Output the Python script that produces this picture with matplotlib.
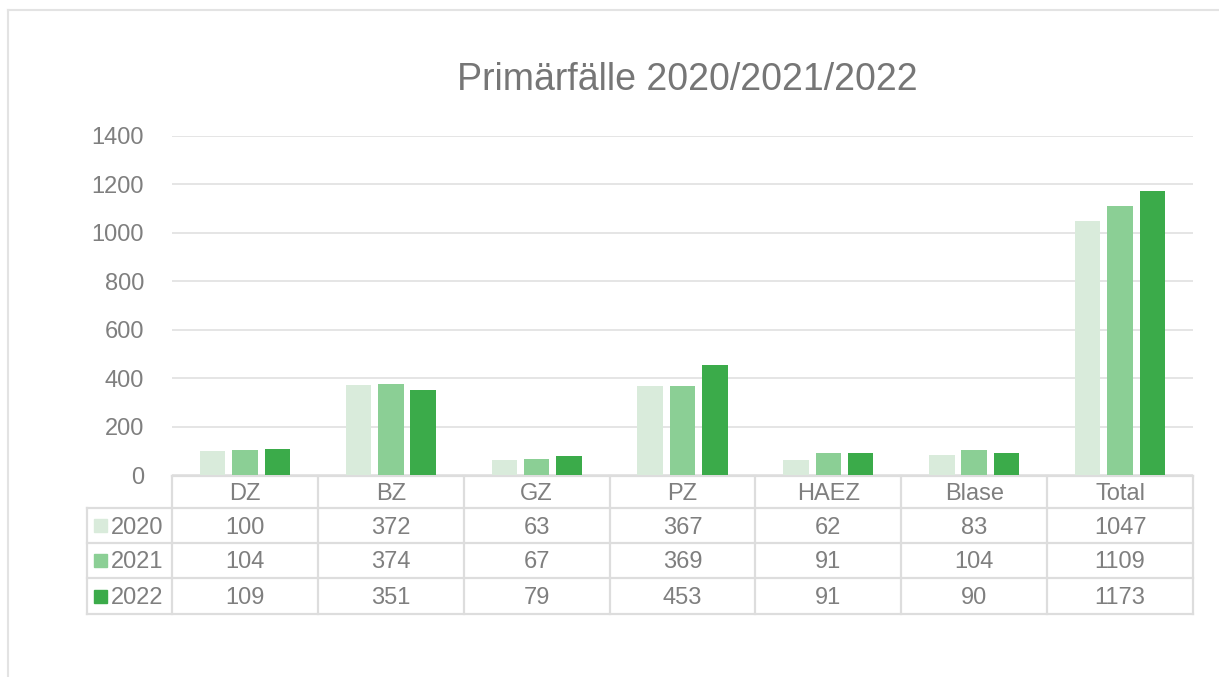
import matplotlib.pyplot as plt
import matplotlib.transforms as mtransforms
from matplotlib.patches import Rectangle
from matplotlib.lines import Line2D
import numpy as np

plt.rcParams["font.family"] = ["Liberation Sans", "DejaVu Sans"]

categories = ["DZ", "BZ", "GZ", "PZ", "HAEZ", "Blase", "Total"]
years = ["2020", "2021", "2022"]
v2020 = [100, 372, 63, 367, 62, 83, 1047]
v2021 = [104, 374, 67, 369, 91, 104, 1109]
v2022 = [109, 351, 79, 453, 91, 90, 1173]
series = [v2020, v2021, v2022]
colors = ["#d9ebdb", "#8bcf95", "#3bab4a"]

text_col = "#7f7f7f"
line_col = "#dddddd"

W, H = 1219, 677
fig = plt.figure(figsize=(W / 100, H / 100), dpi=100)

# plot area in pixel coordinates of the reference
x0, x1 = 172, 1193
y_top, y_bot = 136, 475
ax = fig.add_axes([x0 / W, (H - y_bot) / H, (x1 - x0) / W, (y_bot - y_top) / H])

x = np.arange(len(categories))
width = 0.175
offset = 0.222
for i, (vals, c) in enumerate(zip(series, colors)):
    ax.bar(x + (i - 1) * offset, vals, width, color=c, zorder=3)

fs = 17

ax.set_xlim(-0.5, len(categories) - 0.5)
ax.set_ylim(0, 1400)
ax.set_yticks(range(0, 1401, 200))
ax.yaxis.grid(True, color="#e0e0e0", linewidth=1.2, zorder=0)
ax.set_xticks([])
ax.tick_params(axis="y", length=0, pad=20, labelsize=fs, labelcolor=text_col)
for s in ax.spines.values():
    s.set_visible(False)

fig.text(687 / W, 1 - 80 / H, "Primärfälle 2020/2021/2022", fontsize=27,
         color="#767676", ha="center", va="center")

# data table below the axis
trans = mtransforms.blended_transform_factory(ax.transData, ax.transAxes)
ph = y_bot - y_top
def ya(py):
    return (y_bot - py) / ph

rows_px = [476, 508, 543, 578, 614]
rows = [ya(p) for p in rows_px]
shift = 2 / ph  # small downward nudge of the table text
lw = 1.6

# horizontal lines spanning data columns
ax.add_line(Line2D([-0.5, len(categories) - 0.5], [rows[0], rows[0]], transform=trans,
                   color=line_col, lw=lw, clip_on=False))
# left legend column in pixel -> axes fraction
left_col = (87 - x0) / (x1 - x0)
for r in rows[1:]:
    ax.add_line(Line2D([left_col, 1.0], [r, r], transform=ax.transAxes,
                       color=line_col, lw=lw, clip_on=False))
# vertical lines
for b in np.arange(-0.5, len(categories), 1.0):
    ax.add_line(Line2D([b, b], [rows[0], rows[-1]], transform=trans,
                       color=line_col, lw=lw, clip_on=False))
ax.add_line(Line2D([left_col, left_col], [rows[1], rows[-1]], transform=ax.transAxes,
                   color=line_col, lw=lw, clip_on=False))

# header row
for i, cat in enumerate(categories):
    ax.text(i, (rows[0] + rows[1]) / 2 - shift, cat, transform=trans, ha="center",
            va="center", fontsize=fs, color=text_col)
# value rows
for j, (yr, vals, c) in enumerate(zip(years, series, colors)):
    yc = (rows[j + 1] + rows[j + 2]) / 2
    for i, v in enumerate(vals):
        ax.text(i, yc - shift, str(v), transform=trans, ha="center", va="center",
                fontsize=fs, color=text_col)
    key_x = (94 - x0) / (x1 - x0)
    key_w = 13 / (x1 - x0)
    key_h = 13 / ph
    ax.add_patch(Rectangle((key_x, yc - key_h / 2), key_w, key_h, transform=ax.transAxes,
                           color=c, clip_on=False))
    ax.text((111 - x0) / (x1 - x0), yc - shift, yr, transform=ax.transAxes, ha="left",
            va="center", fontsize=fs, color=text_col)

# outer chart border
fig.add_artist(Line2D([8 / W, 1], [1 - 10 / H, 1 - 10 / H], transform=fig.transFigure,
                      color="#e3e3e3", lw=1.5))
fig.add_artist(Line2D([8 / W, 8 / W], [0, 1 - 10 / H], transform=fig.transFigure,
                      color="#e3e3e3", lw=1.5))

fig.savefig("out.png", dpi=100)
